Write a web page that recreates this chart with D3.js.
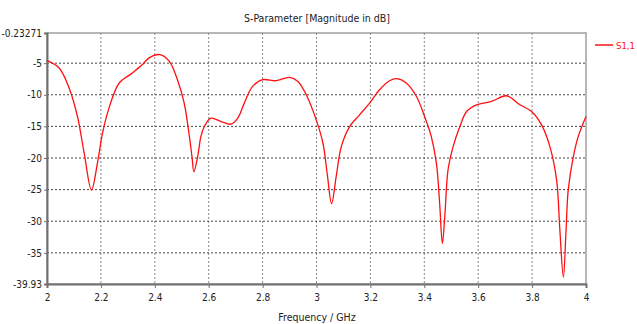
<!DOCTYPE html>
<html>
<head>
<meta charset="utf-8">
<title>S-Parameter</title>
<script src="https://d3js.org/d3.v7.min.js"></script>
<style>
  body { margin: 0; background: #fff; }
  text { font-family: "DejaVu Sans Condensed", "DejaVu Sans", sans-serif; font-stretch: condensed; fill: #222; }
</style>
</head>
<body>
<div id="chart"></div>
<script>
// S1,1 samples: frequency (GHz) and magnitude (dB)
const freq = [2.000, 2.045, 2.082, 2.113, 2.138, 2.165, 2.187, 2.206, 2.230, 2.268,
  2.317, 2.354, 2.379, 2.419, 2.454, 2.484, 2.509, 2.525, 2.538, 2.545,
  2.559, 2.571, 2.584, 2.608, 2.646, 2.683, 2.708, 2.732, 2.763, 2.800,
  2.850, 2.900, 2.931, 2.962, 2.999, 3.024, 3.040, 3.056, 3.073, 3.092,
  3.123, 3.160, 3.197, 3.234, 3.271, 3.299, 3.333, 3.371, 3.401, 3.426,
  3.445, 3.457, 3.467, 3.476, 3.488, 3.507, 3.532, 3.557, 3.594, 3.649,
  3.705, 3.755, 3.798, 3.835, 3.866, 3.891, 3.903, 3.916, 3.926, 3.934,
  3.953, 3.971, 4.000];
const s11 = [-4.60, -5.76, -8.93, -13.44, -19.25, -25.08, -20.84, -16.08, -12.11, -8.14,
  -6.55, -5.23, -4.17, -3.65, -4.71, -7.62, -11.32, -15.55, -19.80, -22.17,
  -19.80, -16.62, -15.03, -13.70, -14.24, -14.65, -13.70, -11.32, -8.68, -7.62,
  -7.78, -7.25, -7.89, -10.00, -13.97, -17.67, -22.60, -27.20, -22.96, -18.20,
  -15.03, -13.17, -11.32, -9.20, -7.78, -7.46, -8.14, -10.27, -13.44, -16.62,
  -20.84, -27.20, -33.50, -29.30, -21.90, -18.20, -15.03, -12.65, -11.59, -11.06,
  -10.16, -11.59, -12.65, -14.76, -18.20, -23.50, -31.40, -38.85, -31.40, -25.08,
  -19.80, -16.62, -13.44];

const xTicks = [2, 2.2, 2.4, 2.6, 2.8, 3, 3.2, 3.4, 3.6, 3.8, 4];
const yTicks = [-0.23271, -5, -10, -15, -20, -25, -30, -35, -39.93];
const yGrid = [-5, -10, -15, -20, -25, -30, -35];

const width = 637, height = 324;
const margin = { top: 33, right: 51, bottom: 40, left: 47 };

const svg = d3.select("#chart").append("svg")
  .attr("width", width)
  .attr("height", height);

const x = d3.scaleLinear().domain([2, 4]).range([margin.left, width - margin.right]);
const y = d3.scaleLinear().domain([-39.93, -0.23271]).range([height - margin.bottom, margin.top]);

// frame
svg.append("rect")
  .attr("x", x(2)).attr("y", y(-0.23271))
  .attr("width", x(4) - x(2)).attr("height", y(-39.93) - y(-0.23271))
  .attr("fill", "none").attr("stroke", "#a0a0a0").attr("stroke-width", 1.5);

// grid
svg.append("g").selectAll("line").data(xTicks.slice(1, -1)).join("line")
  .attr("x1", d => x(d)).attr("x2", d => x(d))
  .attr("y1", y(-0.23271)).attr("y2", y(-39.93))
  .attr("stroke", "#888").attr("stroke-width", 1).attr("stroke-dasharray", "2,2");
svg.append("g").selectAll("line").data(yGrid).join("line")
  .attr("x1", x(2)).attr("x2", x(4))
  .attr("y1", d => y(d)).attr("y2", d => y(d))
  .attr("stroke", "#444").attr("stroke-width", 1).attr("stroke-dasharray", "2,2");

// axes
const xAxis = svg.append("g")
  .attr("transform", `translate(0,${y(-39.93)})`)
  .call(d3.axisBottom(x).tickValues(xTicks).tickSize(4).tickPadding(6).tickFormat(d3.format("")));
const yAxis = svg.append("g")
  .attr("transform", `translate(${x(2)},0)`)
  .call(d3.axisLeft(y).tickValues(yTicks).tickSize(3).tickPadding(2).tickFormat(d => String(d)));
[xAxis, yAxis].forEach(a => {
  a.select(".domain").attr("stroke", "#707070").attr("stroke-width", 2);
  a.selectAll(".tick line").attr("stroke", "#707070");
  a.selectAll(".tick text").attr("font-size", 10).attr("fill", "#222")
    .attr("font-family", "DejaVu Sans Condensed, DejaVu Sans, sans-serif");
});

// curve
const pts = freq.map((f, i) => [f, s11[i]]);
svg.append("path")
  .datum(pts)
  .attr("fill", "none")
  .attr("stroke", "#ff1010")
  .attr("stroke-width", 1.3)
  .attr("d", d3.line().x(d => x(d[0])).y(d => y(d[1])).curve(d3.curveCatmullRom.alpha(0.5)));

// title and axis label
svg.append("text").attr("x", 317).attr("y", 22).attr("text-anchor", "middle")
  .attr("font-size", 10.5).text("S-Parameter [Magnitude in dB]");
svg.append("text").attr("x", 317).attr("y", 321).attr("text-anchor", "middle")
  .attr("font-size", 10.5).text("Frequency / GHz");

// legend
svg.append("line").attr("x1", 595).attr("x2", 613).attr("y1", 45).attr("y2", 45)
  .attr("stroke", "#ff1010").attr("stroke-width", 1.5);
svg.append("text").attr("x", 616).attr("y", 48.5).attr("font-size", 9.5)
  .style("fill", "#ff1010").text("S1,1");
</script>
</body>
</html>
